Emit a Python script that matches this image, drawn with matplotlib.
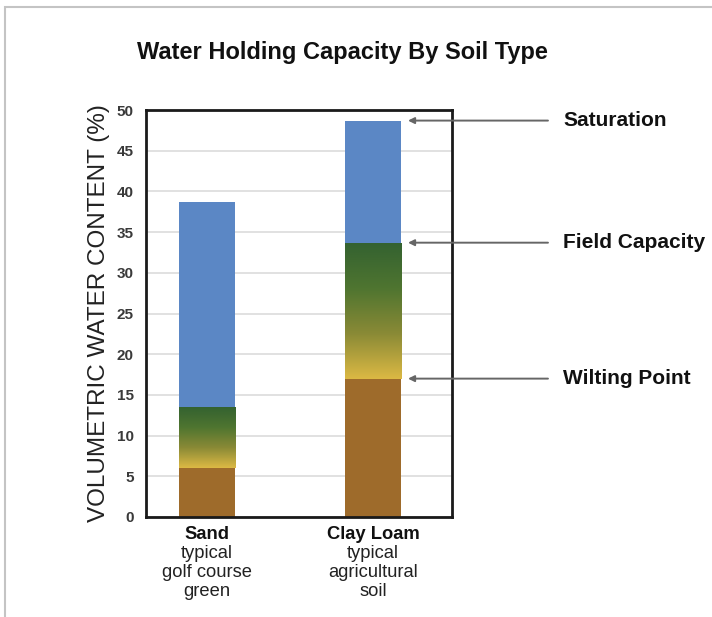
import numpy as np
import matplotlib.pyplot as plt
from matplotlib.colors import LinearSegmentedColormap
from matplotlib.patches import Rectangle

plt.rcParams['font.family'] = ['Liberation Sans', 'DejaVu Sans']

# data
soils = ["Sand", "Clay Loam"]
soil_notes = ["typical\ngolf course\ngreen", "typical\nagricultural\nsoil"]
wilting_point = [6, 17]
field_capacity = [13.4, 33.7]
saturation = [38.7, 48.7]
levels = ["Saturation", "Field Capacity", "Wilting Point"]

brown = "#9e6b2b"
blue = "#5b87c5"
grad = LinearSegmentedColormap.from_list("avail", ["#dcb944", "#8a8a36", "#4f7530", "#346230"])

fig = plt.figure(figsize=(7.12, 6.17), dpi=100)
fig.patches.append(Rectangle((5 / 712, -0.1), 1.2, 1 - 7 / 617 + 0.1, transform=fig.transFigure,
                             fill=False, edgecolor="#c4c4c4", linewidth=1.5))
ax = fig.add_axes([146 / 712, 1 - 517 / 617, 306 / 712, 407 / 617])

x = np.array([0.0, 1.0])
w = 0.34
ax.bar(x, wilting_point, width=w, color=brown, zorder=2)
ax.bar(x, np.array(saturation) - np.array(field_capacity), bottom=field_capacity,
       width=w, color=blue, zorder=2)
# gradient between wilting point and field capacity
g = np.linspace(0, 1, 256).reshape(-1, 1)
for xi, lo, hi in zip(x, wilting_point, field_capacity):
    ax.imshow(g, cmap=grad, origin="lower", aspect="auto", zorder=2,
              extent=[xi - w / 2, xi + w / 2, lo, hi])

ax.set_xlim(-0.367, 1.476)
ax.set_ylim(0, 50)
ax.set_yticks(np.arange(0, 51, 5))
ax.yaxis.grid(True, color="#dcdcdc", linewidth=1.2, zorder=0)
ax.set_axisbelow(True)
ax.tick_params(axis="y", length=0, pad=9)
for t in ax.get_yticklabels():
    t.set_fontsize(11)
    t.set_fontweight("bold")
    t.set_color("#3a3a3a")
ax.set_xticks([])
for s in ax.spines.values():
    s.set_linewidth(2)
    s.set_color("#1a1a1a")

ax.set_ylabel("VOLUMETRIC WATER CONTENT (%)", fontsize=17.5, color="#222222", labelpad=5)

for xi, name, note in zip(x, soils, soil_notes):
    ax.text(xi, -1.1, name, ha="center", va="top", fontsize=13.2, fontweight="bold", color="#111111")
    ax.text(xi, -3.5, note, ha="center", va="top", fontsize=13.2, color="#222222", linespacing=1.12)

# level annotations pointing at clay loam bar
clay = 1
for lab, val in zip(levels, [saturation[clay], field_capacity[clay], wilting_point[clay]]):
    ax.annotate("", xy=(1.211, val), xytext=(2.054, val),
                annotation_clip=False,
                arrowprops=dict(arrowstyle="-|>", color="#666666", lw=1.4,
                                mutation_scale=9, shrinkA=0, shrinkB=0))
    ax.text(2.145, val, lab, ha="left", va="center", fontsize=15, fontweight="bold", color="#111111")

fig.text(342 / 712, 1 - 52 / 617, "Water Holding Capacity By Soil Type", ha="center", va="center",
         fontsize=17, fontweight="bold", color="#111111")

fig.savefig("out.png", dpi=100)
